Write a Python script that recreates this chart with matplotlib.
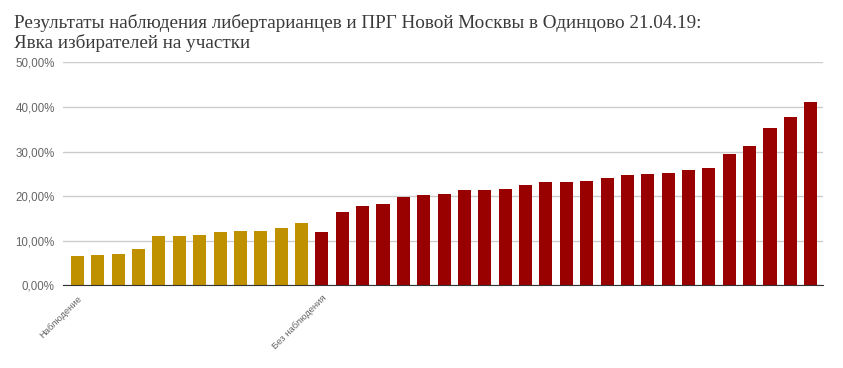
import numpy as np
import matplotlib.pyplot as plt
from matplotlib.ticker import FuncFormatter

# Явка на участках, %
observed = [6.6, 6.8, 7.0, 8.1, 11.0, 11.0, 11.3, 11.9, 12.1, 12.1, 12.8, 14.0]
not_observed = [11.9, 16.4, 17.8, 18.2, 19.8, 20.2, 20.4, 21.3, 21.3, 21.5, 22.4,
                23.1, 23.1, 23.3, 24.0, 24.7, 24.9, 25.1, 25.8, 26.3, 29.4,
                31.2, 35.2, 37.7, 41.1]
group_labels = ['Наблюдение', 'Без наблюдения']
title = ('Результаты наблюдения либертарианцев и ПРГ Новой Москвы в Одинцово 21.04.19:\n'
         'Явка избирателей на участки')

gold = '#bf9000'
red = '#990000'

fig = plt.figure(figsize=(8.43, 3.68), dpi=100)
ax = fig.add_axes([0.0747, 0.2247, 0.9013, 0.606])

x_obs = np.arange(len(observed))
x_not = np.arange(len(not_observed)) + len(observed)
ax.bar(x_obs, observed, width=0.64, color=gold, zorder=3)
ax.bar(x_not, not_observed, width=0.64, color=red, zorder=3)

ax.set_ylim(0, 50)
ax.set_xlim(-0.71, len(observed) + len(not_observed) - 1 + 0.59)
ax.set_yticks(np.arange(0, 51, 10))
ax.yaxis.set_major_formatter(FuncFormatter(lambda v, p: f'{v:.2f}%'.replace('.', ',')))
ax.grid(axis='y', color='#cccccc', linewidth=1, zorder=0)
ax.tick_params(axis='y', length=0, pad=6, labelsize=8.3, labelcolor='#666666')
for s in ['top', 'right', 'left']:
    ax.spines[s].set_visible(False)
ax.spines['bottom'].set_color('#333333')
ax.spines['bottom'].set_zorder(4)

ax.set_xticks([0, len(observed)])
ax.set_xticklabels(group_labels, rotation=45, ha='right', rotation_mode='anchor',
                   fontsize=6.8, color='#666666')
ax.tick_params(axis='x', length=0, pad=6)

for lab in ax.get_yticklabels() + ax.get_xticklabels():
    lab.set_family('Liberation Sans')

fig.text(0.0166, 0.962, title, ha='left', va='top', fontsize=13.8,
         family='Liberation Serif', color='#3a3a3a', linespacing=1.16)

fig.savefig('out.png', dpi=100)
